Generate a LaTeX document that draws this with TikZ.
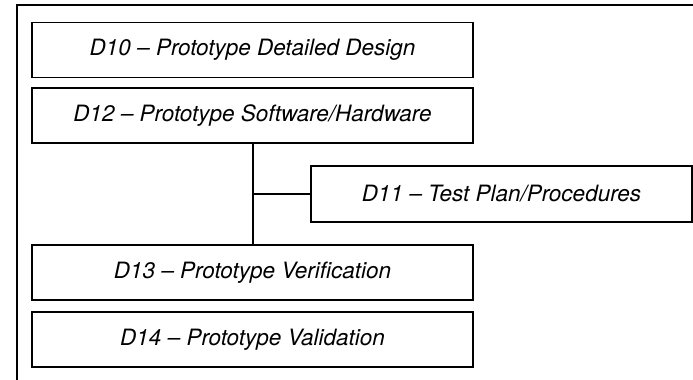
\documentclass[tikz,border=0pt]{standalone}
\usepackage{fontspec}
\setmainfont{TeX Gyre Heros}
\begin{document}
\begin{tikzpicture}[minimum height=1.375cm, minimum width=11.025cm, align=center, line width=1.1pt, font=\itshape\fontsize{16}{19}\selectfont]
	\useasboundingbox (0,0) rectangle (17.325,9.5);
	\draw[line width=1pt] (0.425,-1) |- (18,9.375);
	\node[draw] (design) at (6.3125,8.25) {D10 -- Prototype Detailed Design};
	\node[draw] (softhard) at (6.3125,6.6125) {D12 -- Prototype Software/Hardware};
	\node[draw, minimum width=9.525cm, minimum height=1.4cm] (testplan) at (12.5375,4.65) {D11 -- Test Plan/Procedures};
	\node[draw] (verif) at (6.3125,2.6875) {D13 -- Prototype Verification};
	\node[draw] (valid) at (6.3125,1.0125) {D14 -- Prototype Validation};
	\coordinate (junc) at (6.325,4.65);
	%%%%%%%%%%%%%
	\draw[line width=0.9pt] (softhard.south -| junc) -- (verif.north -| junc);
	\draw[line width=0.9pt] (junc) -- (testplan);
\end{tikzpicture}
\end{document}
